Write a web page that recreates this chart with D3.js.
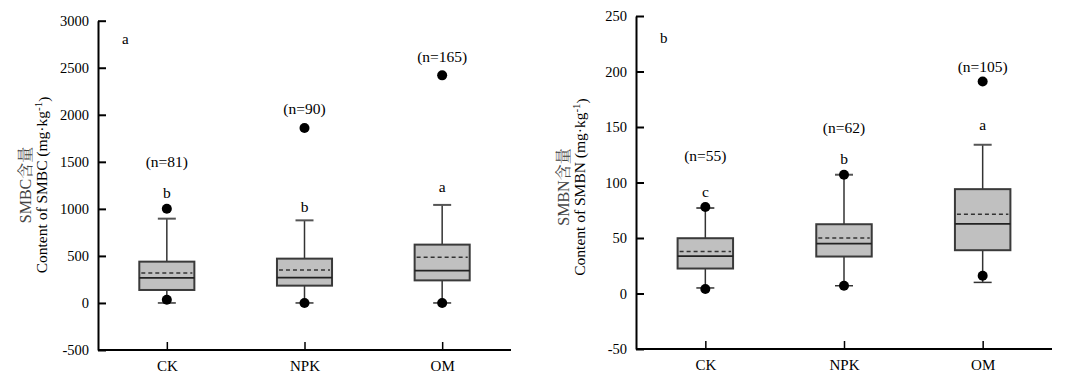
<!DOCTYPE html>
<html><head><meta charset="utf-8">
<script src="https://cdn.jsdelivr.net/npm/d3@7"></script>
<style>
body{margin:0;background:#fff;}
svg{display:block;font-family:"Liberation Serif","Times New Roman",serif;}
</style></head>
<body><svg id="chart" width="1079" height="380"></svg>
<script>
const categories = ["CK","NPK","OM"];

// Panel a: SMBC
const smbcTicks = [-500,0,500,1000,1500,2000,2500,3000];
const smbcWhiskerLow  = [0,0,0];
const smbcQ1          = [138,184,240];
const smbcMedian      = [266,269,343];
const smbcMean        = [319,351,485];
const smbcQ3          = [439,471,620];
const smbcWhiskerHigh = [896,878,1042];
const smbcOutliers    = [[1002,35],[1860,0],[2419,0]];
const smbcN           = [81,90,165];
const smbcNAt         = [1505,2068,2615];
const smbcLetters     = ["b","b","a"];
const smbcLetterAt    = [1170,1027,1240];

// Panel b: SMBN
const smbnTicks = [-50,0,50,100,150,200,250];
const smbnWhiskerLow  = [5,7,10];
const smbnQ1          = [22.5,33.3,39];
const smbnMedian      = [33.6,45,62.7];
const smbnMean        = [37.8,50.1,71.4];
const smbnQ3          = [49.8,62.4,94];
const smbnWhiskerHigh = [77,107,134];
const smbnOutliers    = [[78,4],[107,7],[191,16]];
const smbnN           = [55,62,105];
const smbnNAt         = [124,149.5,204.8];
const smbnLetters     = ["c","b","a"];
const smbnLetterAt    = [91.5,122,152.5];

const svg = d3.select("#chart");

function panel(cfg){
  const g = svg.append("g");
  const x = d3.scalePoint().domain(categories).range([cfg.x0, cfg.x1]).padding(0.5);
  const y = d3.scaleLinear().domain(cfg.domain).range([cfg.yb, cfg.yt]);
  const step = x.step();
  const bw = step*0.4;

  // y axis
  const ya = g.append("g").attr("transform",`translate(${cfg.x0},0)`)
    .call(d3.axisLeft(y).tickValues(cfg.ticks).tickSizeInner(-8).tickSizeOuter(0).tickPadding(9).tickFormat(v=>String(v)));
  ya.select(".domain").attr("stroke","#000").attr("stroke-width",2);
  ya.selectAll(".tick line").attr("stroke","#000").attr("stroke-width",2);
  ya.selectAll(".tick text").attr("font-size",14.5).attr("fill","#000").attr("font-family","Liberation Serif");

  // x axis
  const xa = g.append("g").attr("transform",`translate(0,${cfg.yb})`)
    .call(d3.axisBottom(x).tickSizeInner(-8).tickSizeOuter(0).tickPadding(10));
  xa.select(".domain").attr("stroke","#000").attr("stroke-width",2).attr("d",`M${cfg.x0},0H${cfg.x1}`);
  xa.selectAll(".tick line").attr("stroke","#000").attr("stroke-width",1.5);
  xa.selectAll(".tick text").attr("font-size",15).attr("fill","#000").attr("font-family","Liberation Serif");

  const d = categories.map((c,i)=>({c,i,lo:cfg.wl[i],q1:cfg.q1[i],med:cfg.med[i],mean:cfg.mean[i],q3:cfg.q3[i],hi:cfg.wh[i],out:cfg.out[i],n:cfg.n[i],nAt:cfg.nAt[i],let:cfg.let[i],letAt:cfg.letAt[i]}));
  const bx = g.selectAll("g.box").data(d).join("g").attr("class","box");
  // whiskers
  bx.append("line").attr("x1",e=>x(e.c)).attr("x2",e=>x(e.c)).attr("y1",e=>y(e.q3)).attr("y2",e=>y(e.hi)).attr("stroke","#333").attr("stroke-width",1.5);
  bx.append("line").attr("x1",e=>x(e.c)).attr("x2",e=>x(e.c)).attr("y1",e=>y(e.q1)).attr("y2",e=>y(e.lo)).attr("stroke","#333").attr("stroke-width",1.5);
  // caps
  bx.append("line").attr("x1",e=>x(e.c)-9).attr("x2",e=>x(e.c)+9).attr("y1",e=>y(e.hi)).attr("y2",e=>y(e.hi)).attr("stroke","#555").attr("stroke-width",2);
  bx.append("line").attr("x1",e=>x(e.c)-9).attr("x2",e=>x(e.c)+9).attr("y1",e=>y(e.lo)).attr("y2",e=>y(e.lo)).attr("stroke","#333").attr("stroke-width",1.5);
  // box
  bx.append("rect").attr("x",e=>x(e.c)-bw/2).attr("width",bw).attr("y",e=>y(e.q3)).attr("height",e=>y(e.q1)-y(e.q3))
    .attr("fill","#c0c0c0").attr("stroke","#3a3a3a").attr("stroke-width",2);
  // median
  bx.append("line").attr("x1",e=>x(e.c)-bw/2).attr("x2",e=>x(e.c)+bw/2).attr("y1",e=>y(e.med)).attr("y2",e=>y(e.med)).attr("stroke","#222").attr("stroke-width",1.8);
  // mean
  bx.append("line").attr("x1",e=>x(e.c)-bw/2+2).attr("x2",e=>x(e.c)+bw/2-2).attr("y1",e=>y(e.mean)).attr("y2",e=>y(e.mean))
    .attr("stroke","#333").attr("stroke-width",1.5).attr("stroke-dasharray","4,3");
  // outliers
  bx.selectAll("circle").data(e=>e.out.map(v=>({c:e.c,v}))).join("circle")
    .attr("cx",o=>x(o.c)).attr("cy",o=>y(o.v)).attr("r",5).attr("fill","#000");
  // annotations
  bx.append("text").attr("x",e=>x(e.c)).attr("y",e=>y(e.nAt)).attr("dy","0.35em").attr("text-anchor","middle").attr("font-size",15.5).text(e=>`(n=${e.n})`);
  bx.append("text").attr("x",e=>x(e.c)).attr("y",e=>y(e.letAt)).attr("dy","0.35em").attr("text-anchor","middle").attr("font-size",15.5).text(e=>e.let);

  // panel label
  g.append("text").attr("x",cfg.x0+24).attr("y",cfg.labelY).attr("dy","0.35em").attr("font-size",15).text(cfg.panel);

  // y titles
  g.append("text").attr("transform",`translate(${cfg.x0-73},${cfg.ty}) rotate(-90)`).attr("text-anchor","middle").attr("dy","0.35em")
    .attr("font-size",16).attr("fill","#444").attr("font-family","Liberation Serif, Noto Serif CJK SC, Noto Sans CJK SC").text(cfg.t1);
  const t2 = g.append("text").attr("transform",`translate(${cfg.x0-56},${cfg.ty}) rotate(-90)`).attr("text-anchor","middle").attr("dy","0.35em")
    .attr("font-size",15.5).attr("fill","#000");
  t2.append("tspan").text(cfg.t2 + " (mg·kg");
  t2.append("tspan").attr("dy","-0.45em").attr("font-size",11).text("-1");
  t2.append("tspan").attr("dy","0.45em").text(")");
}

panel({x0:98,x1:511,yb:350,yt:20.7,domain:[-500,3000],ticks:smbcTicks,wl:smbcWhiskerLow,q1:smbcQ1,med:smbcMedian,mean:smbcMean,q3:smbcQ3,wh:smbcWhiskerHigh,out:smbcOutliers,n:smbcN,nAt:smbcNAt,let:smbcLetters,letAt:smbcLetterAt,panel:"a",labelY:39,ty:185,t1:"SMBC含量",t2:"Content of SMBC"});
panel({x0:636,x1:1052,yb:349,yt:16,domain:[-50,250],ticks:smbnTicks,wl:smbnWhiskerLow,q1:smbnQ1,med:smbnMedian,mean:smbnMean,q3:smbnQ3,wh:smbnWhiskerHigh,out:smbnOutliers,n:smbnN,nAt:smbnNAt,let:smbnLetters,letAt:smbnLetterAt,panel:"b",labelY:38,ty:187,t1:"SMBN含量",t2:"Content of SMBN"});
</script></body></html>
